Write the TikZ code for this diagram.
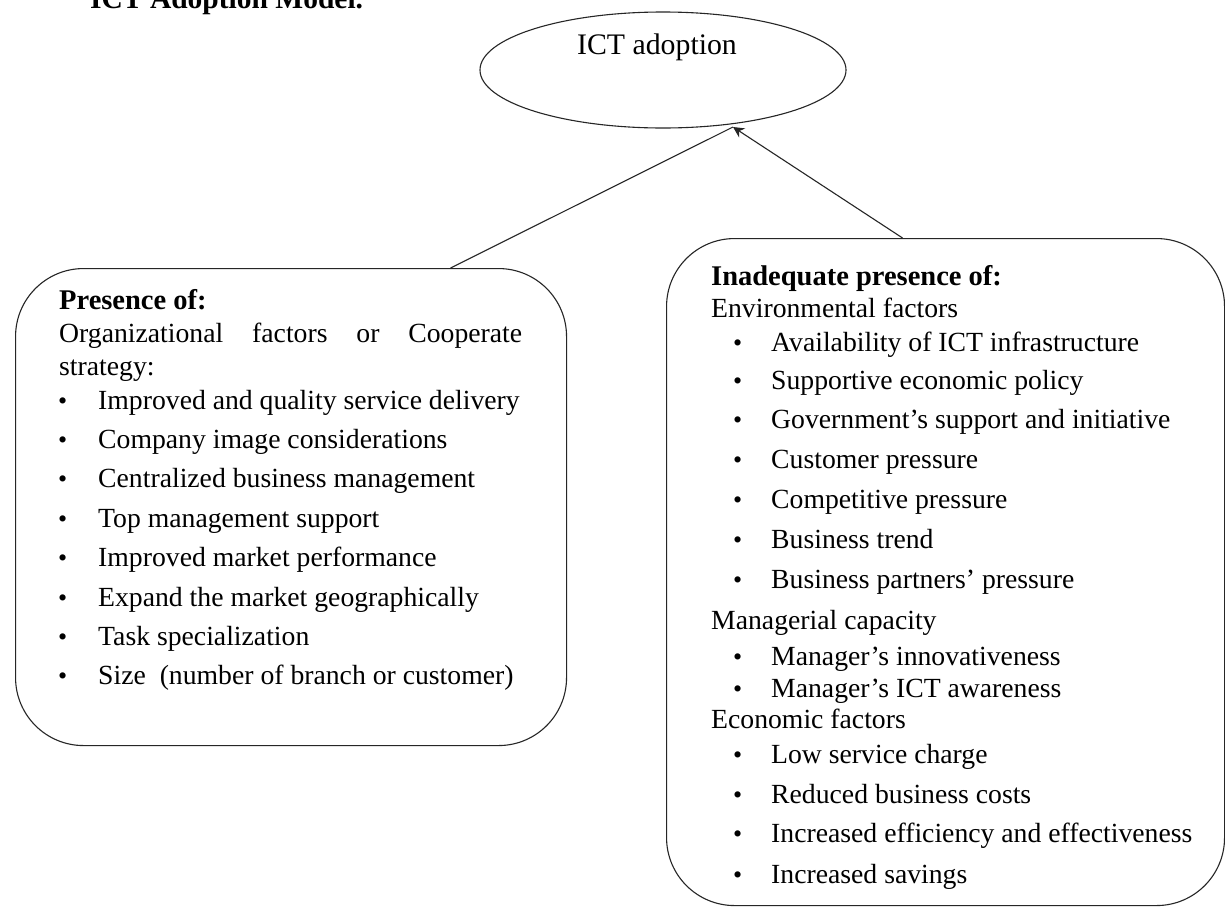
\documentclass[tikz,border=0pt]{standalone}
\usepackage{fontspec}
\setmainfont{Liberation Serif}
\usetikzlibrary{shapes.geometric,arrows.meta}

\tikzset{
  frame/.style={draw=black!85, line width=1.1pt, rounded corners=68pt, inner sep=0pt},
  body/.style={anchor=base west, inner sep=0pt, font=\fontsize{27.7}{30}\selectfont},
  headtxt/.style={anchor=base west, inner sep=0pt, font=\fontsize{28.5}{30}\selectfont\bfseries},
  dotmark/.style={anchor=base west, inner sep=0pt, font=\fontsize{26}{28}\selectfont},
  link/.style={draw=black!85, line width=1.1pt},
}

\begin{document}
\begin{tikzpicture}[x=1pt,y=-1pt]
  \useasboundingbox (0,0) rectangle (1225,908);
  \clip (0,0) rectangle (1225,908);
  \fill[white] (0,0) rectangle (1225,908);

  % section heading, running off the top edge
  \node[anchor=base west, inner sep=0pt, font=\fontsize{29.5}{30}\selectfont\bfseries] (title) at (90,8) {ICT Adoption Model.};

  % outcome
  \node[ellipse, draw=black!85, line width=1.1pt, minimum width=366pt, minimum height=116pt, inner sep=0pt] (adopt) at (663,70) {};
  \node[anchor=base, inner sep=0pt, font=\fontsize{29.8}{30}\selectfont] (adoptlbl) at (657,54) {ICT adoption};

  % the two groups of factors
  \node[frame, anchor=north west, minimum width=551pt, minimum height=477pt] (lbox) at (15,268) {};
  \node[frame, anchor=north west, minimum width=558pt, minimum height=667pt] (rbox) at (666,238) {};

  % connectors
  \coordinate (tip) at (733,127);
  \draw[link] ([xshift=159.5pt]lbox.north) -- (tip);
  \draw[link, -{Stealth[length=11pt,width=11pt]}] ([xshift=-43pt]rbox.north) -- (tip);

  % left group
  \node[headtxt] (lhead) at (59,309) {Presence of:};
  \node[body] (lsub1) at (59,342) {\makebox[463pt][s]{Organizational factors or Cooperate}};
  \node[body] (lsub2) at (59,375) {strategy:};
  \foreach \txt [count=\i from 0] in {
      Improved and quality service delivery,
      Company image considerations,
      Centralized business management,
      Top management support,
      Improved market performance,
      Expand the market geographically,
      Task specialization,
      Size~ (number of branch or customer)} {
    \node[dotmark] (lb\i) at (58,{409+39.4*\i}) {\textbullet};
    \node[body] (lt\i) at (98,{409+39.4*\i}) {\txt};
  }

  % right group
  \node[headtxt] (rhead) at (711,285) {Inadequate presence of:};
  \node[body] (renv) at (711,317) {Environmental factors};
  \foreach \txt/\yy [count=\i] in {
      Availability of ICT infrastructure/351,
      Supportive economic policy/389,
      Government’s support and initiative/428,
      Customer pressure/468,
      Competitive pressure/508,
      Business trend/548,
      Business partners’ pressure/588,
      Manager’s innovativeness/665,
      Manager’s ICT awareness/697,
      Low service charge/763,
      Reduced business costs/803,
      Increased efficiency and effectiveness/842,
      Increased savings/883} {
    \node[dotmark] (rb\i) at (733,\yy) {\textbullet};
    \node[body] (rt\i) at (771,\yy) {\txt};
  }
  \node[body] (rman) at (711,629) {Managerial capacity};
  \node[body] (reco) at (711,728) {Economic factors};
\end{tikzpicture}
\end{document}
